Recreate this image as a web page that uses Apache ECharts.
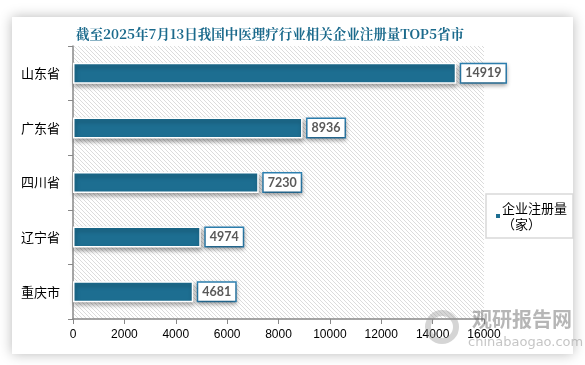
<!DOCTYPE html>
<html><head><meta charset="utf-8">
<script src="https://cdn.jsdelivr.net/npm/echarts@6/dist/echarts.min.js"></script>
<style>html,body{margin:0;padding:0;background:#fff;}#c{width:585px;height:365px;}</style>
</head><body><div id="c"></div>
<script>
const categories = ['山东省','广东省','四川省','辽宁省','重庆市'];
const values = [14919, 8936, 7230, 4974, 4681];
const xTicks = [0,2000,4000,6000,8000,10000,12000,14000,16000];
const seriesName = '企业注册量\n（家）';
const titleText = '截至2025年7月13日我国中医理疗行业相关企业注册量TOP5省市';

const pc = document.createElement('canvas');
pc.width = 4; pc.height = 4;
const g = pc.getContext('2d');
g.fillStyle = '#ffffff'; g.fillRect(0,0,4,4);
g.strokeStyle = '#dcdcdc'; g.lineWidth = 1;
for (let k=-4;k<=8;k+=4){ g.beginPath(); g.moveTo(k,0); g.lineTo(k+4,4); g.stroke(); }

const chart = echarts.init(document.getElementById('c'), null, {renderer:'canvas'});
chart.setOption({
  animation:false,
  graphic:[
    {type:'rect', z:-10, shape:{x:12,y:17,width:561,height:337}, style:{fill:'#fff', shadowBlur:12, shadowColor:'rgba(0,0,0,0.28)'}},
    {type:'circle', z:100, shape:{cx:442,cy:327,r:14}, style:{fill:'none', stroke:'rgba(150,150,150,0.4)', lineWidth:6}},
    {type:'text', z:100, left:472, top:309, style:{text:'观研报告网', font:'bold 20px "Noto Sans CJK SC"', fill:'rgba(110,110,110,0.5)'}},
    {type:'text', z:100, left:468, top:336, style:{text:'chinabaogao.com', font:'13px "DejaVu Sans"', fill:'rgba(140,140,140,0.5)'}}
  ],
  title:{text:titleText, left:71, top:22, textStyle:{color:'#1b6a8c', fontSize:13.5, fontWeight:'bold', fontFamily:'"Noto Serif CJK SC","Noto Sans CJK SC",serif'}},
  legend:{
    data:[seriesName], orient:'vertical', left:486, top:194, width:70,
    padding:[6,6,6,8], borderColor:'#d9d9d9', borderWidth:1.5,
    icon:'rect', itemWidth:6, itemHeight:6, itemGap:0,
    textStyle:{color:'#000', fontSize:13, fontFamily:'"Noto Sans CJK SC"', lineHeight:16, padding:[0,0,0,-4]}
  },
  grid:{left:73, top:46, right:101, bottom:46, show:true, borderWidth:0, backgroundColor:{image:pc, repeat:'repeat'}},
  xAxis:{type:'value', min:0, max:16000, interval:2000,
    axisLine:{show:true, lineStyle:{color:'#888', width:1.5}},
    axisTick:{show:true, length:5, lineStyle:{color:'#888'}},
    splitLine:{show:false},
    axisLabel:{color:'#000', fontSize:12, margin:10, fontFamily:'"Liberation Sans",Arial', formatter:function(v){return String(v);}}
  },
  yAxis:{type:'category', data:categories, inverse:true,
    axisLine:{show:true, lineStyle:{color:'#888', width:1.5}},
    axisTick:{show:true, length:5, lineStyle:{color:'#888'}},
    axisLabel:{color:'#000', fontSize:13, margin:13, fontFamily:'"Noto Sans CJK SC"'}
  },
  series:[{
    name:seriesName, type:'bar', data:values, barWidth:21,
    itemStyle:{color:'#1d6e91', borderColor:'#fff', borderWidth:1.5, shadowColor:'rgba(0,0,0,0.35)', shadowBlur:4, shadowOffsetY:3, shadowOffsetX:1},
    label:{show:true, position:'right', distance:5, backgroundColor:'#fff', borderColor:'#2e82b3', borderWidth:1.5,
      padding:[3,4,2,4], color:'#595959', fontWeight:'bold', fontSize:12.5, fontFamily:'Lato,"Open Sans",sans-serif',
      shadowColor:'rgba(0,0,0,0.3)', shadowBlur:4, shadowOffsetY:2}
  }]
});
</script></body></html>
